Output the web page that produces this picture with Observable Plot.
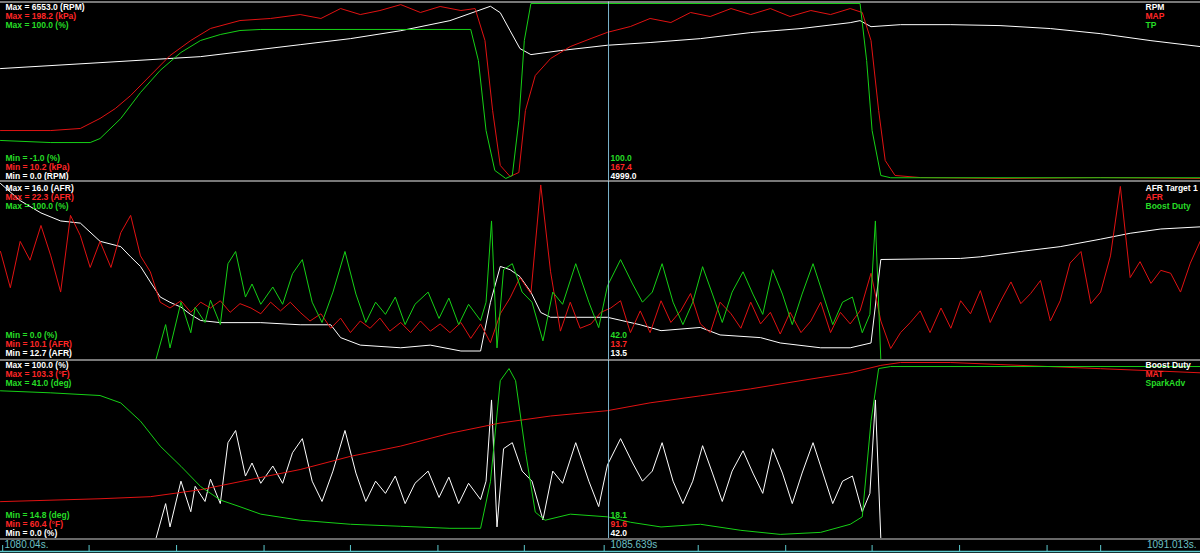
<!DOCTYPE html>
<html><head><meta charset="utf-8">
<script src="https://cdn.jsdelivr.net/npm/d3@7"></script>
<script src="https://cdn.jsdelivr.net/npm/@observablehq/plot@0.6"></script>
<style>
html,body{margin:0;padding:0;background:#000;}
#chart{width:1200px;height:553px;overflow:hidden;background:#000;}
#chart svg{display:block;}
</style></head>
<body><div id="chart"></div>
<script>
// ---------------- DATA ----------------
const timeDomain = [1080.04, 1091.013];
const cursorTime = 1085.60;
const axisTickTimes = [1080.06, 1080.85, 1081.65, 1082.45, 1083.24, 1084.04, 1084.83, 1085.56, 1086.42, 1087.22, 1088.01, 1088.81, 1089.61, 1090.10];
const axisLabels = ["1080.04s.", "1085.639s", "1091.013s."];

// Panel 1
const rpmTime  = [1080.04,1080.95,1081.87,1082.78,1083.24,1083.70,1084.15,1084.52,1084.61,1084.70,1084.79,1084.89,1085.16,1085.59,1085.98,1086.44,1086.90,1087.36,1087.81,1087.90,1088.00,1088.27,1088.73,1089.18,1089.64,1090.10,1090.56,1091.01];
const rpmValue = [4130,4350,4575,5020,5245,5540,5915,6450,6210,5540,4875,4650,4800,4999,5100,5245,5470,5620,5840,5915,5690,5765,5765,5730,5620,5430,5170,4950];
const mapTime  = [1080.04,1080.50,1080.77,1080.95,1081.09,1081.23,1081.41,1081.59,1081.78,1081.96,1082.23,1082.51,1082.78,1082.97,1083.15,1083.33,1083.51,1083.70,1083.88,1084.06,1084.25,1084.38,1084.47,1084.54,1084.61,1084.70,1084.78,1084.84,1084.93,1085.07,1085.25,1085.44,1085.59,1085.80,1085.98,1086.17,1086.35,1086.53,1086.72,1086.90,1087.08,1087.26,1087.45,1087.63,1087.81,1087.92,1088.00,1088.07,1088.13,1088.22,1088.45,1089.18,1090.10,1091.01];
const mapValue = [62.5,62.5,64.7,75.4,86.0,99.9,121.3,142.6,158.7,171.5,180.0,182.2,186.4,182.2,192.8,186.4,190.7,197.0,188.6,195.0,190.7,192.8,158.7,83.9,25.2,13.4,17.7,83.9,121.3,139.4,152.2,160.8,167.4,173.6,182.2,177.9,188.6,184.3,192.8,186.4,192.8,184.3,190.7,186.4,192.8,188.6,158.7,83.9,30.5,14.5,12.3,11.3,12.3,11.3];
const tpTime  = [1080.04,1080.50,1080.86,1080.95,1081.14,1081.32,1081.50,1081.69,1081.87,1082.05,1082.23,1082.42,1084.34,1084.41,1084.48,1084.56,1084.66,1084.72,1084.78,1084.83,1084.89,1087.90,1087.96,1088.01,1088.09,1088.18,1091.01];
const tpValue = [21.4,20.2,20.2,22.5,34.0,48.9,61.6,71.9,78.8,82.2,84.5,85.1,85.1,67.3,27.1,4.2,-0.4,1.3,32.9,78.8,100.0,100.0,67.3,27.1,1.3,0.0,0.0];

// Panel 2
const afrTargetTime  = [1080.04,1080.22,1080.41,1080.59,1080.77,1080.95,1081.14,1081.23,1081.32,1081.41,1081.50,1081.59,1081.69,1081.78,1081.87,1082.05,1082.42,1082.78,1083.06,1083.15,1083.33,1083.70,1083.97,1084.25,1084.43,1084.52,1084.61,1084.70,1084.79,1084.89,1084.98,1085.07,1085.59,1085.89,1086.08,1086.44,1086.62,1086.99,1087.17,1087.54,1087.81,1088.00,1088.09,1088.82,1089.00,1089.37,1089.73,1090.10,1090.37,1090.65,1091.01];
const afrTargetValue = [16.0,15.68,15.45,15.30,15.26,14.92,14.82,14.63,14.45,14.16,13.88,13.78,13.69,13.55,13.44,13.40,13.40,13.36,13.36,13.12,12.98,12.93,12.98,12.87,12.87,13.78,14.45,14.39,14.26,13.97,13.59,13.50,13.50,13.36,13.25,13.31,13.17,13.12,13.02,12.93,12.93,13.02,14.58,14.60,14.63,14.73,14.82,14.96,15.07,15.15,15.19];
const afrTime = [1080.04,1080.13,1080.22,1080.31,1080.41,1080.50,1080.59,1080.68,1080.77,1080.86,1080.95,1081.05,1081.14,1081.23,1081.32,1081.41,1081.50,1081.59,1081.69,1081.78,1081.87,1081.96,1082.05,1082.14,1082.23,1082.33,1082.42,1082.51,1082.60,1082.69,1082.78,1082.87,1082.97,1083.06,1083.15,1083.24,1083.33,1083.42,1083.51,1083.60,1083.70,1083.79,1083.88,1083.97,1084.06,1084.15,1084.25,1084.34,1084.43,1084.52,1084.61,1084.70,1084.79,1084.89,1084.98,1085.07,1085.16,1085.25,1085.34,1085.44,1085.53,1085.62,1085.71,1085.80,1085.89,1085.98,1086.08,1086.17,1086.26,1086.35,1086.44,1086.53,1086.62,1086.72,1086.81,1086.90,1086.99,1087.08,1087.17,1087.26,1087.36,1087.45,1087.54,1087.63,1087.72,1087.81,1087.90,1088.00,1088.09,1088.18,1088.27,1088.36,1088.45,1088.54,1088.64,1088.73,1088.82,1088.91,1089.00,1089.09,1089.18,1089.28,1089.37,1089.46,1089.55,1089.64,1089.73,1089.82,1089.92,1090.01,1090.10,1090.19,1090.28,1090.37,1090.46,1090.56,1090.65,1090.74,1090.83,1090.92,1091.01];
const afrValue = [17.6,15.1,18.3,17.0,19.4,17.3,14.8,20.1,18.7,16.5,18.3,16.5,18.9,20.1,17.3,16.2,14.1,13.7,14.2,13.4,14.1,13.7,14.2,13.4,14.0,13.7,13.3,14.1,13.5,14.1,13.4,12.8,13.3,12.3,13.0,12.0,12.8,12.3,13.0,12.1,12.7,12.0,12.8,12.1,12.6,12.0,12.7,11.6,12.6,11.3,13.3,14.4,15.8,14.7,22.2,16.2,12.1,14.1,12.3,12.6,13.4,13.7,14.2,12.0,13.5,12.0,14.2,12.7,13.5,14.7,12.6,12.0,14.1,13.3,12.3,14.1,12.6,13.4,11.9,13.4,12.0,12.8,14.1,12.0,13.4,12.6,13.5,16.1,12.8,10.9,12.0,12.7,13.5,12.0,13.7,12.3,14.2,13.3,14.9,12.7,14.1,15.5,14.0,14.7,15.6,12.8,14.2,16.8,17.6,14.0,14.8,17.3,22.1,15.8,16.9,15.4,16.3,16.1,14.8,16.8,18.3];
const boostTime  = [1080.04,1081.41,1081.46,1081.55,1081.59,1081.69,1081.78,1081.82,1081.91,1081.96,1082.05,1082.12,1082.19,1082.28,1082.34,1082.42,1082.53,1082.62,1082.71,1082.80,1082.89,1082.98,1083.08,1083.19,1083.29,1083.38,1083.47,1083.56,1083.65,1083.74,1083.83,1083.95,1084.05,1084.14,1084.23,1084.32,1084.43,1084.48,1084.53,1084.58,1084.64,1084.72,1084.81,1084.90,1085.00,1085.09,1085.18,1085.30,1085.42,1085.51,1085.59,1085.71,1085.82,1085.91,1086.00,1086.09,1086.19,1086.28,1086.37,1086.46,1086.55,1086.64,1086.73,1086.83,1086.92,1087.01,1087.10,1087.19,1087.28,1087.37,1087.47,1087.56,1087.65,1087.74,1087.83,1087.92,1087.99,1088.04,1088.09,1091.01];
const boostValue = [0,0,0,20.1,6.9,32.8,15.5,29.9,21.3,33.9,20.1,54.6,61.5,35.7,43.1,31.6,41.4,31.6,48.9,56.9,32.8,21.3,38.5,61.5,37.4,21.3,32.8,25.9,35.7,20.1,31.6,38.5,23.6,35.1,20.1,31.6,22.4,32.8,78.8,6.9,51.2,54.6,38.5,32.8,10.9,38.5,31.6,54.6,32.8,18.4,42.0,56.9,43.1,32.8,38.5,54.6,32.8,20.1,32.8,52.9,37.4,21.3,38.5,50.0,37.4,25.9,51.2,37.4,20.1,37.4,54.6,37.4,20.1,32.8,35.7,15.5,25.9,78.8,0,0];

// Panel 3
const matTime  = [1080.04,1080.95,1081.41,1081.87,1082.33,1082.78,1083.24,1083.70,1084.15,1084.61,1085.07,1085.59,1085.98,1086.44,1086.90,1087.36,1087.81,1088.09,1088.27,1088.73,1089.18,1089.64,1090.10,1090.56,1091.01];
const matValue = [69.5,70.2,70.7,72.4,74.9,77.3,80.5,83.0,86.1,88.6,90.3,91.6,93.5,95.2,96.9,98.9,100.8,102.6,103.3,103.3,102.8,102.3,101.8,101.3,100.8];
const sparkTime  = [1080.04,1080.50,1080.95,1081.14,1081.32,1081.50,1081.69,1081.87,1082.05,1082.23,1082.42,1082.78,1083.24,1083.70,1084.15,1084.43,1084.52,1084.61,1084.69,1084.75,1084.84,1084.93,1085.02,1085.25,1085.59,1085.80,1086.08,1086.44,1086.81,1087.17,1087.54,1087.81,1087.92,1088.00,1088.07,1088.18,1091.01];
const sparkValue = [36.8,36.5,36.1,35.0,32.3,28.6,25.6,22.6,20.6,19.6,18.5,17.6,17.0,16.7,16.4,16.4,23.3,38.3,40.1,38.3,27.8,18.8,17.6,18.5,18.1,17.3,16.6,17.0,16.1,15.5,15.8,17.0,18.1,32.3,40.1,40.4,40.4];

// channel labels, units, ranges and cursor readouts (as printed on the chart)
const p1Names = ["RPM", "MAP", "TP"];
const p1Units = ["RPM", "kPa", "%"];
const p1Min = [0.0, 10.2, -1.0];
const p1Max = [6553.0, 198.2, 100.0];
const p1Cursor = ["4999.0", "167.4", "100.0"];
const p2Names = ["AFR Target 1", "AFR", "Boost Duty"];
const p2Units = ["AFR", "AFR", "%"];
const p2Min = [12.7, 10.1, 0.0];
const p2Max = [16.0, 22.3, 100.0];
const p2Cursor = ["13.5", "13.7", "42.0"];
const p3Names = ["Boost Duty", "MAT", "SparkAdv"];
const p3Units = ["%", "°F", "deg"];
const p3Min = [0.0, 60.4, 14.8];
const p3Max = [100.0, 103.3, 41.0];
const p3Cursor = ["42.0", "91.6", "18.1"];

// ---------------- DRAWING ----------------
const WHITE = "#ffffff", RED = "#e01212", GREEN = "#16d016";
const RED_T = "#ff2626", GREEN_T = "#26dc26";
const CURSOR = "#7db7cf", TEAL = "#5cc8cc", TEAL_T = "#6cc0c6";
const FONT = "Liberation Sans, Arial, sans-serif";
const FS = 8.5;

function norm(times, values, min, max) {
  return times.map((t, i) => ({t, v: (values[i] - min) / (max - min)}));
}
function fmt(v) { return v.toFixed(1); }

function panel(cfg) {
  const cols = [WHITE, RED, GREEN];
  const tcols = [WHITE, RED_T, GREEN_T];
  const marks = [];
  cfg.series.forEach((s, i) => {
    marks.push(Plot.line(norm(s.t, s.v, cfg.min[i], cfg.max[i]), {x: "t", y: "v", stroke: cols[i], strokeWidth: 1, clip: true}));
  });
  marks.push(Plot.ruleX([cursorTime], {stroke: CURSOR, strokeWidth: 1}));
  marks.push(Plot.frame({anchor: "top", stroke: "#f0f0f0", strokeWidth: 1.2}));
  const txt = (text, fill, o) => Plot.text([text], Object.assign({text: d => d, fill, fontSize: FS, fontFamily: FONT, fontWeight: "bold", lineAnchor: "middle", textAnchor: "start"}, o));
  // Max lines (white, red, green)
  for (let i = 0; i < 3; i++) {
    marks.push(txt(`Max = ${fmt(cfg.max[i])} (${cfg.units[i]})`, tcols[i], {frameAnchor: "top-left", dx: 5, dy: cfg.maxDy + 9 * i}));
    marks.push(txt(cfg.names[i], tcols[i], {frameAnchor: "top-right", dx: -55, dy: cfg.maxDy + 9 * i}));
  }
  // Min lines (green, red, white) and cursor readouts
  for (let j = 0; j < 3; j++) {
    const i = 2 - j;
    const dy = cfg.minDy - 9 * (2 - j);
    marks.push(txt(`Min = ${fmt(cfg.min[i])} (${cfg.units[i]})`, tcols[i], {frameAnchor: "bottom-left", dx: 5, dy}));
    marks.push(txt(cfg.cursor[i], tcols[i], {x: () => cursorTime, frameAnchor: "bottom", dx: 2, dy}));
  }
  return Plot.plot({
    width: 1200, height: cfg.height,
    marginLeft: 0, marginRight: 0, marginTop: cfg.marginTop, marginBottom: 0,
    x: {domain: timeDomain, axis: null},
    y: {domain: [0, 1], range: cfg.range, axis: null},
    style: {background: "#000", color: "#fff", fontFamily: FONT},
    marks
  });
}

const chart = document.getElementById("chart");
chart.append(panel({
  height: 180, marginTop: 1.5, range: [179, 3],
  series: [{t: rpmTime, v: rpmValue}, {t: mapTime, v: mapValue}, {t: tpTime, v: tpValue}],
  names: p1Names, units: p1Units, min: p1Min, max: p1Max, cursor: p1Cursor,
  maxDy: 5.5, minDy: -4
}));
chart.append(panel({
  height: 179, marginTop: 0.5, range: [179.6, 3],
  series: [{t: afrTargetTime, v: afrTargetValue}, {t: afrTime, v: afrValue}, {t: boostTime, v: boostValue}],
  names: p2Names, units: p2Units, min: p2Min, max: p2Max, cursor: p2Cursor,
  maxDy: 7, minDy: -6.5
}));
chart.append(panel({
  height: 179, marginTop: 0.5, range: [179.6, 3],
  series: [{t: boostTime, v: boostValue}, {t: matTime, v: matValue}, {t: sparkTime, v: sparkValue}],
  names: p3Names, units: p3Units, min: p3Min, max: p3Max, cursor: p3Cursor,
  maxDy: 5, minDy: -5
}));
// time strip
chart.append(Plot.plot({
  width: 1200, height: 15,
  marginLeft: 0, marginRight: 0, marginTop: 0.5, marginBottom: 2,
  x: {domain: timeDomain, axis: null},
  style: {background: "#000", fontFamily: FONT},
  marks: [
    Plot.frame({anchor: "top", stroke: "#d0d0d0"}),
    Plot.frame({anchor: "bottom", stroke: TEAL, strokeWidth: 1.5}),
    Plot.tickX(axisTickTimes, {x: d => d, stroke: TEAL, insetTop: 6.5}),
    Plot.text([axisLabels[0]], {text: d => d, frameAnchor: "left", dx: 4, fill: TEAL_T, fontSize: 10, fontFamily: FONT}),
    Plot.text([axisLabels[1]], {text: d => d, x: () => cursorTime, frameAnchor: "middle", textAnchor: "start", dx: 2, fill: TEAL_T, fontSize: 10, fontFamily: FONT}),
    Plot.text([axisLabels[2]], {text: d => d, frameAnchor: "right", textAnchor: "end", dx: -4, fill: TEAL_T, fontSize: 10, fontFamily: FONT})
  ]
}));
</script>
</body></html>
